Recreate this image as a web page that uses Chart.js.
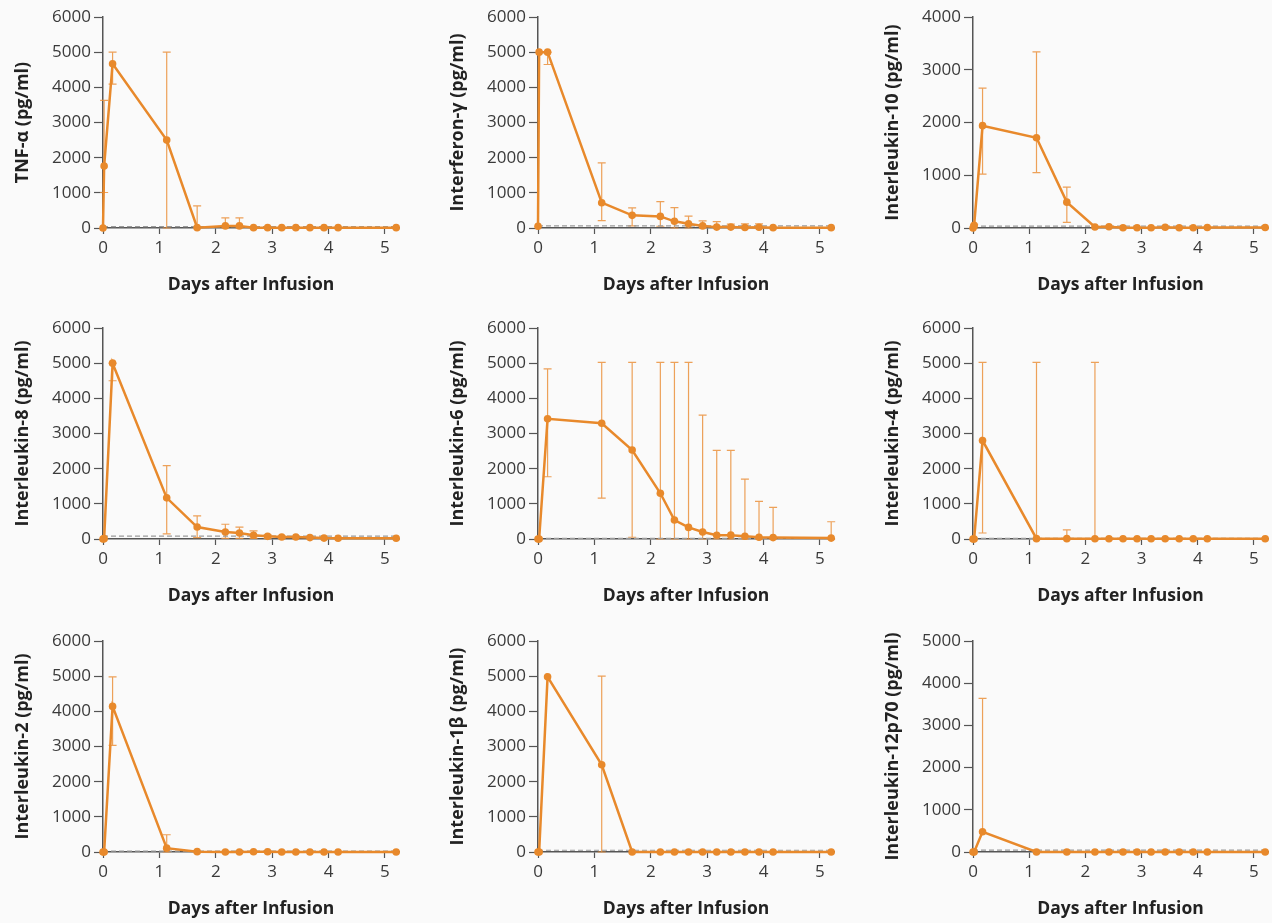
<!DOCTYPE html>
<html lang="en">

<head>
    <meta charset="UTF-8">
    <title>Cytokine levels after infusion</title>
    <script src="https://cdn.jsdelivr.net/npm/chart.js"></script>
    <style>
        html, body { margin: 0; padding: 0; background: #fafafa; overflow: hidden; }
        #wrap { position: relative; width: 1272px; height: 923px; }
        #wrap canvas { position: absolute; }
    </style>
</head>

<body>
    <div id="wrap"></div>

    <script>
        // time points (days after infusion)
        const days = [0, 0.02, 0.17, 1.13, 1.67, 2.17, 2.42, 2.67, 2.92, 3.17, 3.42, 3.67, 3.92, 4.17, 5.2];
        const xTicks = [0, 1, 2, 3, 4, 5];
        const yTicks6000 = [0, 1000, 2000, 3000, 4000, 5000, 6000];
        const yTicks5000 = [0, 1000, 2000, 3000, 4000, 5000];
        const yTicks4000 = [0, 1000, 2000, 3000, 4000];

        // means, upper and lower error values (pg/ml)
        const tnfMean = [0, 1760, 4670, 2500, 10, 60, 60, 10, 10, 10, 10, 10, 10, 10, 10];
        const tnfHi = [null, 3630, 5000, 5000, 630, 290, 290, null, null, null, null, null, null, null, null];
        const tnfLo = [null, 1010, 4090, 0, 0, 0, 0, null, null, null, null, null, null, null, null];

        const ifnMean = [50, 5000, 5000, 720, 360, 330, 190, 120, 60, 25, 25, 15, 20, 10, 10];
        const ifnHi = [null, null, 5000, 1850, 570, 750, 580, 340, 200, 180, 110, 120, 120, null, null];
        const ifnLo = [null, null, 4650, 210, 60, 50, 0, 0, 0, 0, 0, 0, 0, null, null];

        const il10Mean = [0, 50, 1940, 1710, 490, 20, 25, 5, 5, 5, 15, 5, 5, 10, 10];
        const il10Hi = [null, 70, 2650, 3340, 775, null, null, null, null, null, null, null, null, null, null];
        const il10Lo = [null, 0, 1020, 1050, 105, null, null, null, null, null, null, null, null, null, null];

        const il8Mean = [0, 10, 5000, 1170, 340, 200, 170, 105, 75, 55, 55, 40, 25, 20, 20];
        const il8Hi = [null, null, 5000, 2085, 655, 420, 340, 230, 120, 80, null, null, null, null, null];
        const il8Lo = [null, null, 4500, 145, 40, 20, 20, 20, 20, 20, null, null, null, null, null];

        const il6Mean = [0, 0, 3420, 3290, 2530, 1300, 540, 330, 200, 105, 110, 80, 50, 40, 25];
        const il6Hi = [null, null, 4840, 5020, 5020, 5020, 5020, 5020, 3520, 2520, 2520, 1700, 1070, 900, 490];
        const il6Lo = [null, null, 1770, 1160, 50, 0, 0, 0, 0, 0, 0, 0, 0, 0, 0];

        const il4Mean = [0, 0, 2800, 10, 10, 5, 5, 5, 5, 5, 5, 5, 5, 5, 5];
        const il4Hi = [null, null, 5020, 5020, 260, 5020, null, null, null, null, null, null, null, null, null];
        const il4Lo = [null, null, 170, 0, 0, 0, null, null, null, null, null, null, null, null, null];

        const il2Mean = [0, 0, 4140, 110, 10, 0, 0, 5, 5, 0, 0, 0, 0, 0, 0];
        const il2Hi = [null, null, 4980, 490, null, null, null, null, null, null, null, null, null, null, null];
        const il2Lo = [null, null, 3030, 0, null, null, null, null, null, null, null, null, null, null, null];

        const il1bMean = [0, 0, 4980, 2480, 0, 0, 0, 0, 0, 0, 0, 0, 0, 0, 0];
        const il1bHi = [null, null, null, 5000, null, null, null, null, null, null, null, null, null, null, null];
        const il1bLo = [null, null, null, 0, null, null, null, null, null, null, null, null, null, null, null];

        const il12Mean = [0, 0, 480, 0, 0, 0, 0, 0, 0, 0, 0, 0, 0, 0, 0];
        const il12Hi = [null, null, 3640, null, null, null, null, null, null, null, null, null, null, null, null];
        const il12Lo = [null, null, null, null, null, null, null, null, null, null, null, null, null, null, null];

        // dashed reference level for each panel
        const refLevels = [40, 60, 35, 80, 20, 15, 25, 50, 45];

        const panels = [
            { title: 'TNF-α (pg/ml)', mean: tnfMean, hi: tnfHi, lo: tnfLo, ticks: yTicks6000 },
            { title: 'Interferon-γ (pg/ml)', mean: ifnMean, hi: ifnHi, lo: ifnLo, ticks: yTicks6000 },
            { title: 'Interleukin-10 (pg/ml)', mean: il10Mean, hi: il10Hi, lo: il10Lo, ticks: yTicks4000 },
            { title: 'Interleukin-8 (pg/ml)', mean: il8Mean, hi: il8Hi, lo: il8Lo, ticks: yTicks6000 },
            { title: 'Interleukin-6 (pg/ml)', mean: il6Mean, hi: il6Hi, lo: il6Lo, ticks: yTicks6000 },
            { title: 'Interleukin-4 (pg/ml)', mean: il4Mean, hi: il4Hi, lo: il4Lo, ticks: yTicks6000 },
            { title: 'Interleukin-2 (pg/ml)', mean: il2Mean, hi: il2Hi, lo: il2Lo, ticks: yTicks6000 },
            { title: 'Interleukin-1β (pg/ml)', mean: il1bMean, hi: il1bHi, lo: il1bLo, ticks: yTicks6000 },
            { title: 'Interleukin-12p70 (pg/ml)', mean: il12Mean, hi: il12Hi, lo: il12Lo, ticks: yTicks5000 }
        ];

        const ORANGE = '#e8892b';
        const BAR = 'rgba(234, 145, 60, 0.85)';
        const AXIS = '#555555';
        const FONT = "'Open Sans', 'Noto Sans', sans-serif";

        // error bars drawn under the line through the chart's scales
        const errorBars = {
            id: 'errorBars',
            beforeDatasetsDraw(chart, args, opts) {
                const { ctx, scales: { x, y } } = chart;
                ctx.save();
                ctx.strokeStyle = BAR;
                ctx.lineWidth = 1.2;
                days.forEach((d, i) => {
                    const hi = opts.hi[i];
                    const lo = opts.lo[i];
                    if (hi == null && lo == null) return;
                    const px = x.getPixelForValue(d);
                    const top = y.getPixelForValue(hi != null ? hi : opts.mean[i]);
                    const bot = y.getPixelForValue(lo != null ? lo : opts.mean[i]);
                    ctx.beginPath();
                    ctx.moveTo(px, top);
                    ctx.lineTo(px, bot);
                    if (hi != null) { ctx.moveTo(px - 4, top); ctx.lineTo(px + 4, top); }
                    if (lo != null) { ctx.moveTo(px - 4, bot); ctx.lineTo(px + 4, bot); }
                    ctx.stroke();
                });
                ctx.restore();
            }
        };

        const colLeft = [0, 435, 870];
        const colWidth = [435, 435, 402];
        const rowTop = [0, 311, 624];
        const wrap = document.getElementById('wrap');

        panels.forEach((p, k) => {
            const c = k % 3, r = Math.floor(k / 3);
            const cv = document.createElement('canvas');
            cv.width = colWidth[c];
            cv.height = 311;
            cv.style.left = colLeft[c] + 'px';
            cv.style.top = rowTop[r] + 'px';
            wrap.appendChild(cv);

            const yMax = p.ticks[p.ticks.length - 1];

            new Chart(cv, {
                type: 'line',
                data: {
                    datasets: [
                        {
                            data: days.map((d, i) => ({ x: d, y: p.mean[i] })),
                            borderColor: ORANGE,
                            backgroundColor: ORANGE,
                            borderWidth: 2.5,
                            pointRadius: 3.8,
                            pointBorderWidth: 0,
                            tension: 0,
                            clip: false,
                            order: 0
                        },
                        {
                            data: [{ x: 0, y: refLevels[k] }, { x: 5.2, y: refLevels[k] }],
                            borderColor: '#9a9a9a',
                            borderWidth: 1.2,
                            borderDash: [5, 3],
                            pointRadius: 0,
                            clip: false,
                            order: 1
                        }
                    ]
                },
                options: {
                    responsive: false,
                    animation: false,
                    events: [],
                    layout: { padding: { top: 17, left: 0, right: colWidth[c] - 103 - 296, bottom: 0 } },
                    plugins: {
                        legend: { display: false },
                        tooltip: { enabled: false },
                        errorBars: { mean: p.mean, hi: p.hi, lo: p.lo }
                    },
                    scales: {
                        x: {
                            type: 'linear',
                            min: 0,
                            max: 5.25,
                            afterBuildTicks: (s) => { s.ticks = xTicks.map(v => ({ value: v })); },
                            afterFit: (s) => { s.height = 83; },
                            grid: { drawOnChartArea: false, tickLength: 6, tickColor: AXIS, tickWidth: 1.2 },
                            border: { color: AXIS, width: 1.5 },
                            ticks: { color: '#3a3a3a', padding: 4, font: { family: FONT, size: 17 }, maxRotation: 0, callback: (v) => String(v) },
                            title: {
                                display: true,
                                text: 'Days after Infusion',
                                color: '#222',
                                font: { family: FONT, size: 17.5, weight: 'bold' },
                                padding: { top: 0, bottom: 15 }
                            }
                        },
                        y: {
                            min: 0,
                            max: yMax,
                            afterBuildTicks: (s) => { s.ticks = p.ticks.map(v => ({ value: v })); },
                            afterFit: (s) => { s.width = 103; },
                            grid: { drawOnChartArea: false, tickLength: 9, tickColor: AXIS, tickWidth: 1.2 },
                            border: { color: AXIS, width: 1.5 },
                            ticks: { color: '#3a3a3a', padding: 3, font: { family: FONT, size: 17 }, callback: (v) => String(v) },
                            title: {
                                display: true,
                                text: p.title,
                                color: '#222',
                                font: { family: FONT, size: 18, weight: 'bold' },
                                padding: { top: 12, bottom: 0 }
                            }
                        }
                    }
                },
                plugins: [errorBars]
            });
        });
    </script>
</body>

</html>
